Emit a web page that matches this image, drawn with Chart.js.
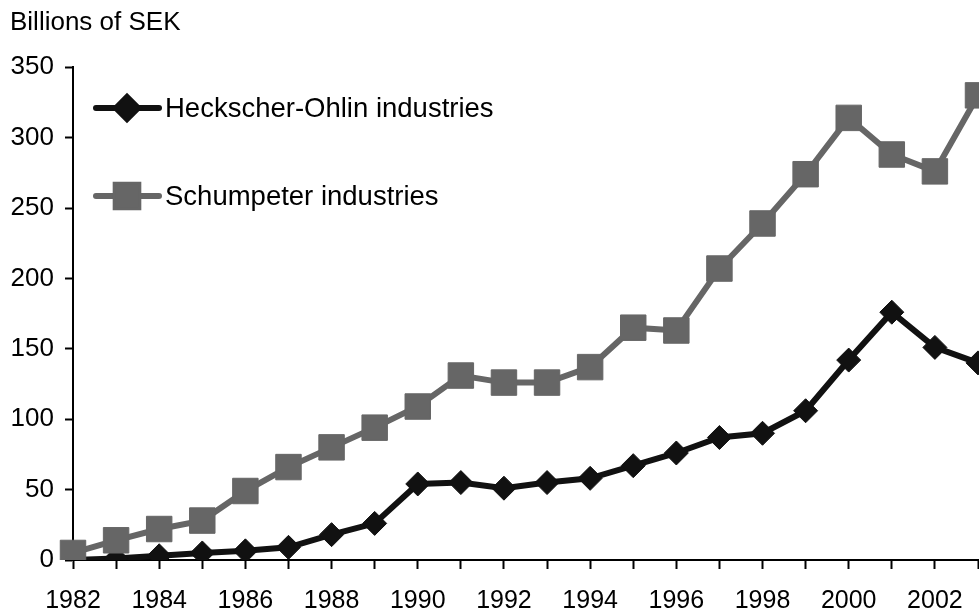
<!DOCTYPE html>
<html>
<head>
<meta charset="utf-8">
<script src="https://cdn.jsdelivr.net/npm/chart.js@4/dist/chart.umd.min.js"></script>
<style>
    html, body { margin: 0; padding: 0; background: #fff; }
    #wrap { width: 979px; height: 614px; position: relative; }
</style>
</head>
<body>
<div id="wrap"><canvas id="chart"></canvas></div>
<script>
var years = ['1982', '1983', '1984', '1985', '1986', '1987', '1988', '1989', '1990', '1991', '1992',
             '1993', '1994', '1995', '1996', '1997', '1998', '1999', '2000', '2001', '2002', '2003'];
var hoValues = [0, 1, 3, 5, 6.5, 9, 18, 26, 54, 55, 51, 55, 58, 67, 76, 87, 90, 106, 142, 176, 151, 140];
var schValues = [5, 14, 22, 28, 49, 66, 80, 94, 109, 131, 126, 126, 137, 165, 163, 207, 239, 274, 314, 288, 276, 330];
var yTicks = [0, 50, 100, 150, 200, 250, 300, 350];

var FONT = "'Liberation Sans', Arial, sans-serif";

// legend drawn inside the plot, line + marker + text
var insideLegend = {
    id: 'insideLegend',
    afterDraw: function(chart) {
        var ctx = chart.ctx;
        var rows = [108, 196];
        chart.data.datasets.forEach(function(ds, i) {
            var y = rows[i];
            ctx.save();
            ctx.strokeStyle = ds.borderColor;
            ctx.lineWidth = 6;
            ctx.lineCap = 'round';
            ctx.beginPath();
            ctx.moveTo(96, y);
            ctx.lineTo(159, y);
            ctx.stroke();
            Chart.helpers.drawPoint(ctx, {
                pointStyle: ds.pointStyle,
                radius: ds.legendRadius,
                borderWidth: 1
            }, 127, y);
            ctx.fillStyle = ds.pointBackgroundColor;
            ctx.fill();
            ctx.fillStyle = '#000';
            ctx.font = '27.5px ' + FONT;
            ctx.textBaseline = 'middle';
            ctx.textAlign = 'left';
            ctx.fillText(ds.label, 165, y + 1);
            ctx.restore();
        });
    }
};

var ctx = document.getElementById('chart').getContext('2d');
var chart = new Chart(ctx, {
    type: 'line',
    data: {
        labels: years,
        datasets: [{
            label: 'Heckscher-Ohlin industries',
            data: hoValues,
            borderColor: '#111111',
            backgroundColor: '#111111',
            pointBackgroundColor: '#111111',
            pointBorderColor: '#111111',
            borderWidth: 6,
            pointStyle: 'rectRot',
            pointRadius: 12,
            pointBorderWidth: 1,
            legendRadius: 11,
            tension: 0,
            order: 2
        }, {
            label: 'Schumpeter industries',
            data: schValues,
            borderColor: '#666666',
            backgroundColor: '#666666',
            pointBackgroundColor: '#666666',
            pointBorderColor: '#666666',
            borderWidth: 6,
            pointStyle: 'rect',
            pointRadius: 18,
            pointBorderWidth: 1,
            legendRadius: 16,
            tension: 0,
            order: 1
        }]
    },
    options: {
        responsive: true,
        maintainAspectRatio: false,
        animation: false,
        layout: {
            autoPadding: false,
            padding: { left: 10, right: 1, top: 0, bottom: 2 }
        },
        plugins: {
            legend: { display: false },
            tooltip: { enabled: false },
            title: {
                display: true,
                text: 'Billions of SEK',
                align: 'start',
                color: '#000',
                font: { family: FONT, size: 26, weight: 'normal' },
                padding: { top: 7, bottom: 29 }
            }
        },
        scales: {
            x: {
                type: 'category',
                offset: false,
                afterFit: function(scale) {
                    scale.height = 52;
                    scale.paddingRight = 0;
                    scale.paddingLeft = 0;
                },
                grid: {
                    display: true,
                    drawOnChartArea: false,
                    drawTicks: true,
                    tickLength: 9,
                    tickWidth: 2,
                    color: '#000'
                },
                border: { display: true, color: '#000', width: 2 },
                ticks: {
                    autoSkip: false,
                    maxRotation: 0,
                    color: '#000',
                    padding: 17,
                    font: { family: FONT, size: 25 },
                    callback: function(val, i) {
                        return i % 2 === 0 ? years[i] : '';
                    }
                }
            },
            y: {
                min: 0,
                max: 350,
                afterBuildTicks: function(scale) {
                    scale.ticks = yTicks.map(function(v) { return { value: v }; });
                },
                afterFit: function(scale) {
                    scale.width = 63;
                },
                grid: {
                    display: true,
                    drawOnChartArea: false,
                    drawTicks: true,
                    tickLength: 8,
                    tickWidth: 2,
                    color: '#000'
                },
                border: { display: true, color: '#000', width: 2 },
                ticks: {
                    color: '#000',
                    padding: 11,
                    font: { family: FONT, size: 26 }
                }
            }
        }
    },
    plugins: [insideLegend]
});
</script>
</body>
</html>
